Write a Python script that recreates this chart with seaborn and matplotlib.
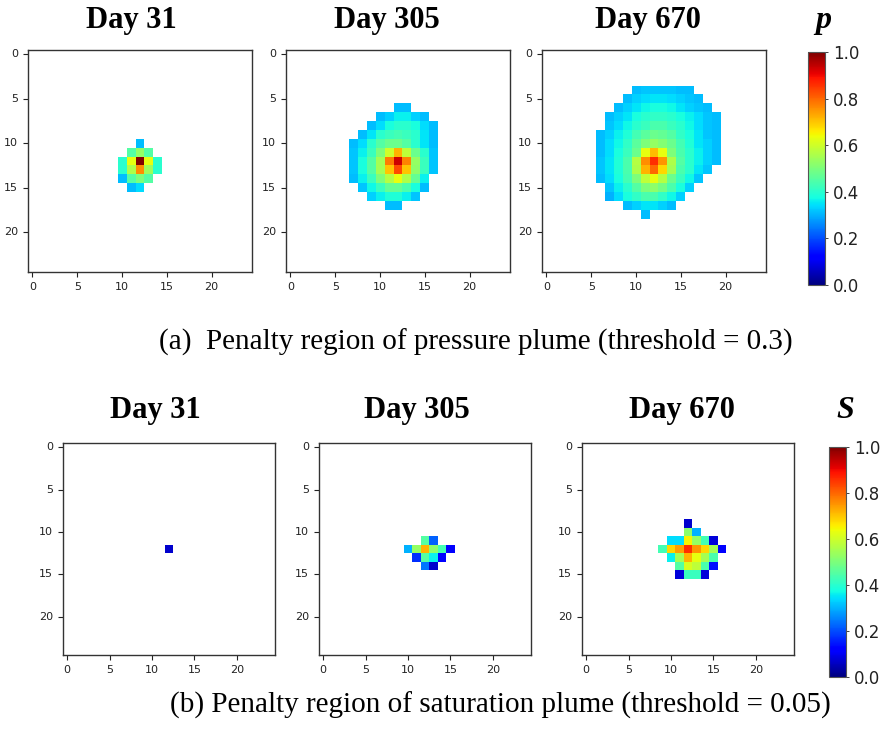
import numpy as np
import pandas as pd
import seaborn as sns
import matplotlib.pyplot as plt

days = ["Day 31", "Day 305", "Day 670"]
grid_size = 25
tick_values = [0, 5, 10, 15, 20]
cbar_ticks = [0.0, 0.2, 0.4, 0.6, 0.8, 1.0]
captions = ["(a)  Penalty region of pressure plume (threshold = 0.3)",
            "(b) Penalty region of saturation plume (threshold = 0.05)"]
symbols = ["p", "S"]

# each entry: (row, first column, cell values left to right); other cells are below threshold
pressure_day31 = [
    (10, 12, [0.31]),
    (11, 11, [0.45, 0.53, 0.45]),
    (12, 10, [0.40, 0.63, 1.00, 0.63, 0.40]),
    (13, 10, [0.40, 0.56, 0.76, 0.54, 0.40]),
    (14, 10, [0.31, 0.45, 0.50, 0.45]),
    (15, 11, [0.31, 0.34]),
]
pressure_day305 = [
    (6, 12, [0.31, 0.31]),
    (7, 10, [0.31, 0.33, 0.36, 0.36, 0.33, 0.31]),
    (8, 9, [0.31, 0.34, 0.38, 0.40, 0.40, 0.38, 0.34, 0.31]),
    (9, 8, [0.31, 0.35, 0.40, 0.42, 0.43, 0.42, 0.40, 0.35, 0.31]),
    (10, 7, [0.31, 0.34, 0.40, 0.45, 0.48, 0.48, 0.45, 0.40, 0.35, 0.31]),
    (11, 7, [0.32, 0.36, 0.42, 0.50, 0.60, 0.72, 0.58, 0.48, 0.40, 0.32]),
    (12, 7, [0.32, 0.38, 0.45, 0.55, 0.78, 0.93, 0.77, 0.53, 0.42, 0.32]),
    (13, 7, [0.32, 0.38, 0.45, 0.55, 0.70, 0.83, 0.70, 0.52, 0.42, 0.32]),
    (14, 7, [0.31, 0.36, 0.42, 0.50, 0.57, 0.63, 0.56, 0.47, 0.36]),
    (15, 8, [0.32, 0.37, 0.42, 0.47, 0.47, 0.44, 0.38, 0.31]),
    (16, 9, [0.33, 0.36, 0.39, 0.39, 0.36, 0.32]),
    (17, 11, [0.31, 0.31]),
]
pressure_day670 = [
    (4, 10, [0.31, 0.32, 0.32, 0.32, 0.32, 0.31, 0.31]),
    (5, 9, [0.31, 0.33, 0.34, 0.35, 0.35, 0.34, 0.33, 0.32, 0.31]),
    (6, 8, [0.31, 0.33, 0.35, 0.37, 0.38, 0.38, 0.37, 0.35, 0.33, 0.32, 0.31]),
    (7, 7, [0.31, 0.33, 0.35, 0.38, 0.40, 0.41, 0.41, 0.40, 0.38, 0.36, 0.34, 0.32, 0.31]),
    (8, 7, [0.32, 0.34, 0.37, 0.40, 0.42, 0.44, 0.44, 0.42, 0.40, 0.37, 0.34, 0.32, 0.31]),
    (9, 6, [0.31, 0.33, 0.36, 0.39, 0.43, 0.46, 0.48, 0.47, 0.45, 0.41, 0.38, 0.35, 0.32, 0.31]),
    (10, 6, [0.31, 0.34, 0.37, 0.41, 0.46, 0.50, 0.53, 0.51, 0.48, 0.43, 0.39, 0.35, 0.33, 0.31]),
    (11, 6, [0.31, 0.34, 0.38, 0.42, 0.48, 0.63, 0.71, 0.63, 0.50, 0.44, 0.40, 0.36, 0.33, 0.31]),
    (12, 6, [0.32, 0.35, 0.39, 0.44, 0.57, 0.76, 0.86, 0.75, 0.56, 0.45, 0.40, 0.36, 0.33, 0.31]),
    (13, 6, [0.32, 0.35, 0.39, 0.44, 0.56, 0.72, 0.80, 0.68, 0.55, 0.44, 0.40, 0.35, 0.32]),
    (14, 6, [0.31, 0.34, 0.38, 0.43, 0.50, 0.58, 0.63, 0.57, 0.48, 0.42, 0.37, 0.32]),
    (15, 7, [0.32, 0.36, 0.40, 0.45, 0.50, 0.52, 0.49, 0.44, 0.38, 0.33]),
    (16, 7, [0.30, 0.34, 0.38, 0.41, 0.44, 0.44, 0.41, 0.37, 0.33]),
    (17, 9, [0.31, 0.33, 0.35, 0.35, 0.33, 0.31]),
    (18, 11, [0.31]),
]
saturation_day31 = [
    (12, 12, [0.07]),
]
saturation_day305 = [
    (11, 12, [0.45, 0.22]),
    (12, 10, [0.30, 0.53, 0.72, 0.52, 0.43, 0.12]),
    (13, 11, [0.17, 0.45, 0.36, 0.12]),
    (14, 12, [0.24, 0.07]),
]
saturation_day670 = [
    (9, 12, [0.07]),
    (10, 12, [0.52, 0.30]),
    (11, 10, [0.34, 0.34, 0.65, 0.53, 0.43, 0.08]),
    (12, 9, [0.43, 0.68, 0.74, 0.86, 0.75, 0.68, 0.55, 0.11]),
    (13, 10, [0.36, 0.55, 0.72, 0.63, 0.55, 0.44]),
    (14, 11, [0.45, 0.61, 0.58, 0.44, 0.14]),
    (15, 11, [0.08, 0.42, 0.42, 0.08]),
]

pressure_panels = [pressure_day31, pressure_day305, pressure_day670]
saturation_panels = [saturation_day31, saturation_day305, saturation_day670]


def to_grid(cells):
    grid = np.full((grid_size, grid_size), np.nan)
    for row, col0, vals in cells:
        grid[row, col0:col0 + len(vals)] = vals
    return pd.DataFrame(grid)


W, H = 880, 746
fig = plt.figure(figsize=(W / 100, H / 100), dpi=100)
serif = "Liberation Serif"

# pixel layout of each row of panels
layouts = [
    dict(lefts=[28, 286, 542], top=50, bottom=272, width=224,
         cbar=(808, 52, 825, 285), title_x=[131, 387, 648], title_y=28,
         sym_x=823, caption=(476, 350)),
    dict(lefts=[63, 319, 582], top=443, bottom=655, width=212,
         cbar=(829, 447, 846, 677), title_x=[155, 417, 682], title_y=418,
         sym_x=845, caption=(500, 713)),
]

for r, (panels, lay) in enumerate(zip([pressure_panels, saturation_panels], layouts)):
    x0, y0, x1, y1 = lay["cbar"]
    cax = fig.add_axes([x0 / W, 1 - y1 / H, (x1 - x0) / W, (y1 - y0) / H])
    for i, cells in enumerate(panels):
        left = lay["lefts"][i]
        ax = fig.add_axes([left / W, 1 - lay["bottom"] / H, lay["width"] / W,
                           (lay["bottom"] - lay["top"]) / H])
        data = to_grid(cells)
        sns.heatmap(data, mask=data.isna(), cmap="jet", vmin=0, vmax=1, ax=ax,
                    cbar=(i == 2), cbar_ax=cax if i == 2 else None)
        ax.set_xticks([t + 0.5 for t in tick_values])
        ax.set_xticklabels(tick_values, rotation=0)
        ax.set_yticks([t + 0.5 for t in tick_values])
        ax.set_yticklabels(tick_values, rotation=0)
        ax.tick_params(labelsize=8, length=3.5, width=0.8, colors="#222222")
        for s in ax.spines.values():
            s.set_visible(True)
            s.set_linewidth(1.0)
            s.set_color("#333333")
        fig.text(lay["title_x"][i] / W, 1 - lay["title_y"] / H, days[i],
                 ha="center", va="baseline", fontsize=22, fontweight="bold",
                 family=serif)
        if i == 2:
            cb = ax.collections[0].colorbar

    cb.set_ticks(cbar_ticks)
    cb.set_ticklabels([f"{t:.1f}" for t in cbar_ticks])
    cb.outline.set_visible(True)
    cb.outline.set_linewidth(0.8)
    cb.outline.set_edgecolor("#555555")
    cax.tick_params(labelsize=12, length=2, width=0.6, colors="#222222")

    fig.text(lay["sym_x"] / W, 1 - lay["title_y"] / H, symbols[r], ha="center",
             va="baseline", fontsize=23, fontweight="bold", fontstyle="italic",
             family=serif)
    cx, cy = lay["caption"]
    fig.text(cx / W, 1 - cy / H, captions[r], ha="center", va="baseline",
             fontsize=21, family=serif)

fig.savefig("out.png", dpi=100)
